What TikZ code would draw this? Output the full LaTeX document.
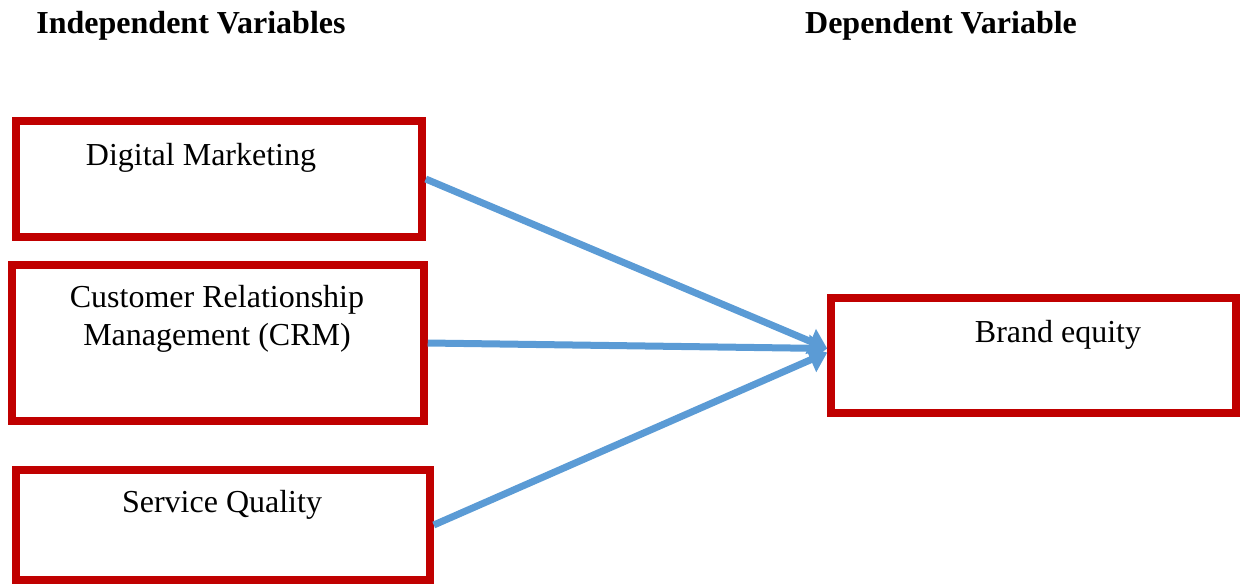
\documentclass[tikz,border=0pt]{standalone}
\usepackage{fontspec}
\setmainfont{Liberation Serif}
\usepackage{xcolor}
\definecolor{boxred}{HTML}{C00000}
\definecolor{linkblue}{HTML}{5B9BD5}
\usetikzlibrary{positioning,arrows.meta,calc}

\begin{document}
\begin{tikzpicture}[
      x=0.5pt, y=-0.5pt,
      varbox/.style={rectangle, draw=boxred, line width=3.75pt, inner sep=0pt},
      vartext/.style={font=\fontsize{16}{19}\selectfont, align=center, inner sep=0pt, anchor=base},
      headtext/.style={font=\fontsize{16}{19}\selectfont\bfseries, inner sep=0pt, anchor=base},
      link/.style={draw=linkblue, line width=3.5pt, -{Triangle[length=9pt,width=13pt]}},
    ]
    \useasboundingbox (0,0) rectangle (1241,584);

    % column headings
    \node[headtext] (indep) at (191,33) {Independent Variables};
    \node[headtext] (dep) at (941,33) {Dependent Variable};

    % variable boxes
    \node[varbox, minimum width=203pt, minimum height=58pt] (digital) at (219,179) {};
    \node[varbox, minimum width=206pt, minimum height=78pt] (crm) at (218,343) {};
    \node[varbox, minimum width=207pt, minimum height=55pt] (service) at (223,525) {};
    \node[varbox, minimum width=202.5pt, minimum height=57.5pt] (brand) at (1033.5,355.5) {};

    % box texts (base = last line)
    \node[vartext] (digitaltxt) at (201,165) {Digital Marketing};
    \node[vartext] (crmtxt) at (217,345) {Customer Relationship\\Management (CRM)};
    \node[vartext] (servicetxt) at (222,512) {Service Quality};
    \node[vartext] (brandtxt) at (1058,342) {Brand equity};

    \coordinate (hit) at ($(brand.west)+(0,3.5pt)$);
    \draw[link] (digital.east) -- (hit);
    \draw[link] (crm.east) -- (hit);
    \draw[link] (service.east) -- ($(hit)+(0,-2pt)$);
  \end{tikzpicture}
\end{document}
